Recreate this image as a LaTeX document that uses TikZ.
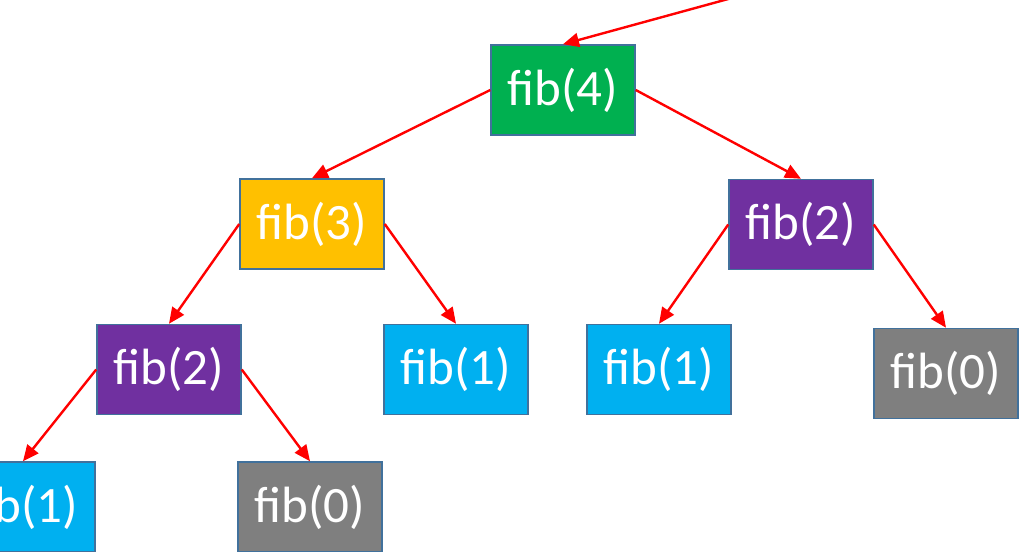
\documentclass[tikz,border=0pt]{standalone}
\usepackage{fontspec}
\setmainfont{Carlito}
\usetikzlibrary{arrows.meta}
\definecolor{fibgreen}{HTML}{00B050}
\definecolor{fiborange}{HTML}{FFC000}
\definecolor{fibpurple}{HTML}{7030A0}
\definecolor{fibblue}{HTML}{00B0F0}
\definecolor{fibgray}{HTML}{7F7F7F}
\definecolor{fibline}{HTML}{41719C}
\definecolor{fibred}{HTML}{FF0000}

\begin{document}
\begin{tikzpicture}
	[x=0.5pt,y=-0.5pt,
	fibbox/.style={shape=rectangle,draw=fibline,line width=0.75pt,inner sep=0pt,
		minimum width=72pt,minimum height=45pt,text=white,
		font=\fontsize{25.5}{30}\selectfont},
	call/.style={draw=fibred,line width=1.2pt,-{Triangle[length=8pt,width=7pt]}}]
	\clip (0,0) rectangle (1024,552);
	\node[fibbox,fill=fibgreen] (f4) at (563,90) {fib(4)};
	\node[fibbox,fill=fiborange] (f3) at (312,224) {fib(3)};
	\node[fibbox,fill=fibpurple] (f2b) at (801,224.5) {fib(2)};
	\node[fibbox,fill=fibpurple] (f2a) at (169,369.5) {fib(2)};
	\node[fibbox,fill=fibblue] (f1b) at (456,369.5) {fib(1)};
	\node[fibbox,fill=fibblue] (f1c) at (659,369.5) {fib(1)};
	\node[fibbox,fill=fibgray] (f0b) at (946,373.5) {fib(0)};
	\node[fibbox,fill=fibblue] (f1a) at (23,507) {fib(1)};
	\node[fibbox,fill=fibgray] (f0a) at (310,507) {fib(0)};
	\coordinate (caller) at (745,-5.6);
	
	\draw[call] (caller) -- (f4.north);
	\path
	\foreach \startNode/\endNode in {f4.west/f3,f4.east/f2b,f3.west/f2a,f3.east/f1b,
		f2b.west/f1c,f2b.east/f0b,f2a.west/f1a,f2a.east/f0a}
	{
		(\startNode) edge[call] (\endNode.north)
	};
\end{tikzpicture}
\end{document}
